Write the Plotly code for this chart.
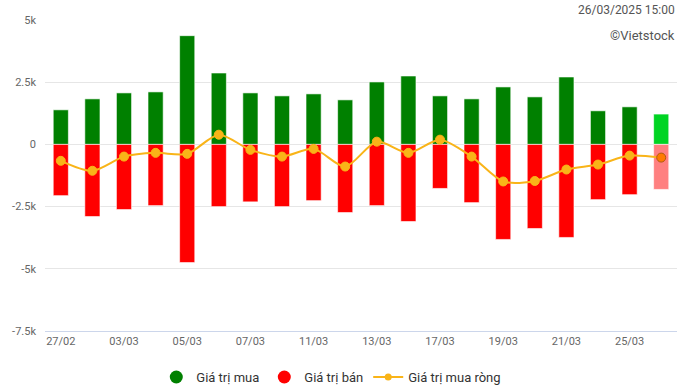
import plotly.graph_objects as go

dates = ["27/02", "28/02", "03/03", "04/03", "05/03", "06/03", "07/03", "10/03", "11/03", "12/03",
         "13/03", "14/03", "17/03", "18/03", "19/03", "20/03", "21/03", "24/03", "25/03", "26/03"]
buy = [1390, 1830, 2070, 2110, 4370, 2870, 2070, 1950, 2030, 1790,
       2510, 2750, 1950, 1830, 2310, 1910, 2710, 1350, 1510, 1220]
sell = [-2060, -2900, -2620, -2460, -4750, -2500, -2310, -2500, -2260, -2740,
        -2460, -3100, -1770, -2340, -3820, -3380, -3740, -2220, -2020, -1810]
net = [-660, -1060, -490, -340, -380, 390, -220, -490, -180, -890,
       110, -340, 190, -490, -1490, -1470, -1010, -810, -450, -530]
tick_dates = ["27/02", "03/03", "05/03", "07/03", "11/03", "13/03", "17/03", "19/03", "21/03", "25/03"]
y_ticks = [5000, 2500, 0, -2500, -5000, -7500]
y_labels = ["5k", "2.5k", "0", "-2.5k", "-5k", "-7.5k"]

buy_colors = ["#008000"] * (len(dates) - 1) + ["#00d423"]
sell_colors = ["#ff0000"] * (len(dates) - 1) + ["#ff8080"]
net_colors = ["#f9b418"] * (len(dates) - 1) + ["#ff7a00"]
net_line_colors = ["#f9b418"] * (len(dates) - 1) + ["#b05a10"]

fig = go.Figure()
fig.add_trace(go.Bar(x=dates, y=buy, marker=dict(color=buy_colors, line=dict(color="white", width=0.6)),
                     showlegend=False, hoverinfo="skip"))
fig.add_trace(go.Bar(x=dates, y=sell, marker=dict(color=sell_colors, line=dict(color="white", width=0.6)),
                     showlegend=False, hoverinfo="skip"))
fig.add_trace(go.Scatter(x=dates, y=net, mode="lines+markers",
                         line=dict(color="#f9b418", width=2, shape="spline", smoothing=0.8),
                         marker=dict(size=9, color=net_colors, line=dict(color=net_line_colors, width=1)),
                         showlegend=False, hoverinfo="skip"))

# legend entries
fig.add_trace(go.Scatter(x=[dates[0]], y=[None], mode="markers", name="Giá trị mua",
                         marker=dict(symbol="circle", size=13, color="#008000")))
fig.add_trace(go.Scatter(x=[dates[0]], y=[None], mode="markers", name="Giá trị bán",
                         marker=dict(symbol="circle", size=13, color="#ff0000")))
fig.add_trace(go.Scatter(x=[dates[0]], y=[None], mode="lines+markers", name="Giá trị mua ròng",
                         line=dict(color="#f9b418", width=2), marker=dict(size=7, color="#f9b418")))

fig.update_layout(
    width=683, height=390,
    margin=dict(l=45, r=6, t=20, b=59, autoexpand=False),
    paper_bgcolor="white", plot_bgcolor="white",
    barmode="relative", bargap=0.52,
    font=dict(family="Roboto, sans-serif", color="#666666", size=11),
    legend=dict(orientation="h", x=0.453, xanchor="center", y=-0.148, yanchor="middle",
                font=dict(size=13, color="#333333"), itemwidth=30, tracegroupgap=0),
    xaxis=dict(type="category", categoryorder="array", categoryarray=dates,
               range=[-0.5, len(dates) - 0.5],
               tickmode="array", tickvals=tick_dates, ticktext=tick_dates,
               showgrid=False, showline=True, linecolor="#ccd6eb", linewidth=1,
               ticks="", tickfont=dict(size=11, color="#666666"), fixedrange=True),
    yaxis=dict(range=[-7500, 5000], tickmode="array", tickvals=y_ticks, ticktext=y_labels,
               showgrid=True, gridcolor="#e6e6e6", gridwidth=1, zeroline=True,
               zerolinecolor="#e6e6e6", zerolinewidth=1, ticks="", ticklabelstandoff=8,
               tickfont=dict(size=11, color="#666666"), fixedrange=True),
    annotations=[
        dict(text="26/03/2025 15:00", x=1, y=1, xref="paper", yref="paper", xanchor="right",
             yanchor="bottom", showarrow=False, yshift=1, font=dict(size=12, color="#555555")),
        dict(text="©Vietstock", x=1, y=1, xref="paper", yref="paper", xanchor="right",
             yanchor="top", showarrow=False, yshift=-6, font=dict(size=13, color="#555555")),
    ],
)

fig.write_html("out.html", config={"displayModeBar": False},
               post_script="document.body.style.margin='0';")
